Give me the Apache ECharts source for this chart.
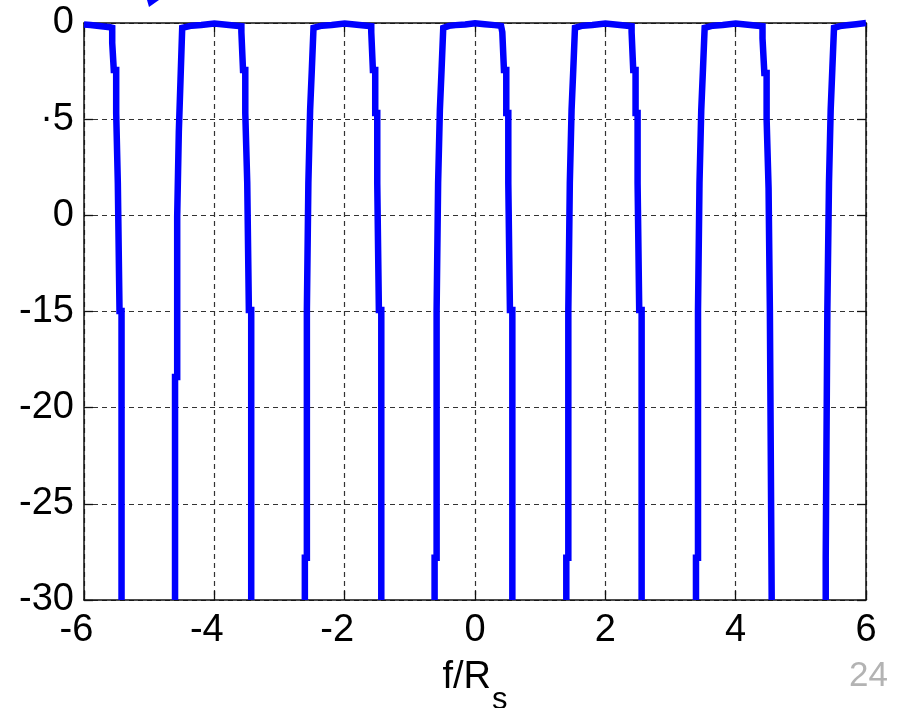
<!DOCTYPE html>
<html>
<head>
<meta charset="utf-8">
<script src="https://cdn.jsdelivr.net/npm/echarts@6/dist/echarts.min.js"></script>
<style>
html,body{margin:0;padding:0;background:#fff;}
#chart{width:897px;height:708px;}
</style>
</head>
<body>
<div id="chart"></div>
<script>
// ---- data: [f/Rs, dB] ----
const lobeM6 = [[-6.0,-0.08],[-5.9,-0.1],[-5.8,-0.14],[-5.7,-0.18],[-5.6,-0.22],[-5.567,-0.25],[-5.567,-1.04],[-5.543,-1.04],[-5.543,-2.44],[-5.506,-2.44],[-5.506,-4.68],[-5.481,-4.68],[-5.481,-8.32],[-5.455,-8.32],[-5.455,-14.97],[-5.424,-14.97],[-5.424,-30]];
const lobeM4 = [[-4.603,-30],[-4.603,-18.41],[-4.570,-18.41],[-4.570,-10.09],[-4.545,-10.09],[-4.545,-5.67],[-4.519,-5.67],[-4.519,-2.96],[-4.493,-2.96],[-4.493,-0.25],[-4.47,-0.18],[-4.35,-0.14],[-4.2,-0.1],[-4.0,-0.03],[-3.85,-0.08],[-3.7,-0.13],[-3.585,-0.17],[-3.585,-0.47],[-3.560,-0.47],[-3.560,-2.44],[-3.525,-2.44],[-3.525,-4.68],[-3.495,-4.68],[-3.495,-8.32],[-3.470,-8.32],[-3.470,-14.92],[-3.434,-14.92],[-3.434,-30]];
const lobeM2 = [[-2.611,-30],[-2.611,-27.8],[-2.580,-27.8],[-2.580,-14.92],[-2.557,-14.92],[-2.557,-8.32],[-2.530,-8.32],[-2.530,-4.52],[-2.504,-4.52],[-2.504,-2.44],[-2.478,-2.44],[-2.478,-0.25],[-2.45,-0.18],[-2.35,-0.14],[-2.2,-0.1],[-2.0,-0.03],[-1.85,-0.08],[-1.7,-0.13],[-1.592,-0.17],[-1.592,-0.47],[-1.567,-0.47],[-1.567,-2.44],[-1.531,-2.44],[-1.531,-4.68],[-1.500,-4.68],[-1.500,-8.32],[-1.475,-8.32],[-1.475,-14.92],[-1.438,-14.92],[-1.438,-30]];
const lobe0 = [[-0.620,-30],[-0.620,-27.8],[-0.589,-27.8],[-0.589,-14.92],[-0.566,-14.92],[-0.566,-8.32],[-0.539,-8.32],[-0.539,-4.52],[-0.513,-4.52],[-0.513,-2.44],[-0.487,-2.44],[-0.487,-0.25],[-0.46,-0.18],[-0.4,-0.15],[-0.3,-0.11],[-0.15,-0.08],[0.0,-0.02],[0.15,-0.07],[0.3,-0.11],[0.4,-0.15],[0.419,-0.17],[0.419,-0.47],[0.444,-0.47],[0.444,-2.44],[0.480,-2.44],[0.480,-4.68],[0.511,-4.68],[0.511,-8.32],[0.536,-8.32],[0.536,-14.92],[0.573,-14.92],[0.573,-30]];
const lobeP2 = [[1.401,-30],[1.401,-27.8],[1.432,-27.8],[1.432,-14.92],[1.455,-14.92],[1.455,-8.32],[1.482,-8.32],[1.482,-4.52],[1.508,-4.52],[1.508,-2.44],[1.534,-2.44],[1.534,-0.25],[1.56,-0.18],[1.65,-0.14],[1.8,-0.1],[2.0,-0.03],[2.15,-0.08],[2.3,-0.13],[2.403,-0.17],[2.403,-0.47],[2.428,-0.47],[2.428,-2.44],[2.464,-2.44],[2.464,-4.68],[2.495,-4.68],[2.495,-8.32],[2.520,-8.32],[2.520,-14.92],[2.557,-14.92],[2.557,-30]];
const lobeP4 = [[3.391,-30],[3.391,-27.8],[3.422,-27.8],[3.422,-14.92],[3.445,-14.92],[3.445,-8.32],[3.472,-8.32],[3.472,-4.52],[3.498,-4.52],[3.498,-2.44],[3.524,-2.44],[3.524,-0.25],[3.55,-0.18],[3.65,-0.14],[3.8,-0.1],[4.0,-0.03],[4.15,-0.08],[4.3,-0.13],[4.412,-0.17],[4.412,-0.8],[4.440,-0.8],[4.440,-2.6],[4.475,-2.6],[4.475,-5.0],[4.505,-5.0],[4.505,-8.6],[4.525,-8.6],[4.525,-14.92],[4.553,-14.92],[4.553,-30]];
const lobeP6 = [[5.382,-30],[5.382,-27.82],[5.407,-27.82],[5.407,-14.92],[5.432,-14.92],[5.432,-8.32],[5.458,-8.32],[5.458,-4.52],[5.484,-4.52],[5.484,-2.34],[5.509,-2.34],[5.509,-0.25],[5.535,-0.2],[5.6,-0.16],[5.7,-0.12],[5.85,-0.06],[6.0,0.0]];

const xMin = -6, xMax = 6, xStep = 2;
const yMin = -30, yMax = 0, yStep = 5;
const yTickValues = [0, -5, -10, -15, -20, -25, -30];
const yTickText  = ['0', '·5', '0', '-15', '-20', '-25', '-30'];
const xTitleMain = 'f/R', xTitleSub = 's';
const pageNumber = '24';

const FONT = '"Liberation Sans", Arial, sans-serif';
const lobes = [lobeM6, lobeM4, lobeM2, lobe0, lobeP2, lobeP4, lobeP6];

const chart = echarts.init(document.getElementById('chart'), null, {renderer: 'canvas'});

const gridLine = {show: true, lineStyle: {color: '#333', width: 1.2, type: [5, 4]}};
const axLine = {show: true, onZero: false, lineStyle: {color: '#111', width: 1.5}};
const tick = {show: true, inside: true, length: 9, lineStyle: {color: '#111', width: 1.3}};

const option = {
  animation: false,
  backgroundColor: '#fff',
  grid: {left: 84, right: 31, top: 23, bottom: 108, containLabel: false, outerBoundsMode: 'none'},
  xAxis: [
    {
      type: 'value', min: xMin, max: xMax, interval: xStep, position: 'bottom',
      axisLine: axLine, axisTick: tick, splitLine: gridLine,
      axisLabel: {
        margin: 12, color: '#000', fontFamily: FONT, fontSize: 38,
        formatter: v => v < 0 ? '{neg|' + v + '}' : '{pos|' + v + '}',
        rich: {
          neg: {fontFamily: FONT, fontSize: 38, color: '#000', padding: [0, 15, 0, 0]},
          pos: {fontFamily: FONT, fontSize: 38, color: '#000'}
        }
      },
      name: '{a|' + xTitleMain + '}{b|' + xTitleSub + '}',
      nameLocation: 'middle', nameGap: 40,
      nameTruncate: {maxWidth: 400},
      nameTextStyle: {
        fontFamily: FONT, color: '#000', fontSize: 38, overflow: 'none',
        rich: {
          a: {fontFamily: FONT, fontSize: 38, color: '#000', verticalAlign: 'middle'},
          b: {fontFamily: FONT, fontSize: 31, color: '#000', padding: [45, 0, 0, 1]}
        }
      }
    },
    {
      type: 'value', min: xMin, max: xMax, interval: xStep, position: 'top',
      axisLine: axLine, axisTick: tick, splitLine: {show: false}, axisLabel: {show: false}
    }
  ],
  yAxis: [
    {
      type: 'value', min: yMin, max: yMax, interval: yStep, position: 'left',
      axisLine: axLine, axisTick: tick, splitLine: gridLine,
      axisLabel: {
        margin: 10, color: '#000', fontFamily: FONT, fontSize: 38,
        formatter: v => { const i = yTickValues.indexOf(v); return i >= 0 ? yTickText[i] : String(v); }
      }
    },
    {
      type: 'value', min: yMin, max: yMax, interval: yStep, position: 'right',
      axisLine: axLine, axisTick: tick, splitLine: {show: false}, axisLabel: {show: false}
    }
  ],
  series: lobes.map(d => ({
    type: 'line', xAxisIndex: 0, yAxisIndex: 0, data: d,
    symbol: 'none', showSymbol: false, clip: false, silent: true,
    lineStyle: {color: '#0000ff', width: 6.5, join: 'miter', cap: 'butt'},
    z: 5
  })),
  graphic: [
    {type: 'polygon', shape: {points: [[147, 0], [159, 0], [149, 7]]}, style: {fill: '#0000ff'}, z: 10},
    {type: 'text', style: {text: pageNumber, x: 888, y: 676, align: 'right', verticalAlign: 'middle',
      fontFamily: FONT, fontSize: 35, fill: '#b3b3b3'}, z: 10}
  ]
};
chart.setOption(option);
</script>
</body>
</html>
